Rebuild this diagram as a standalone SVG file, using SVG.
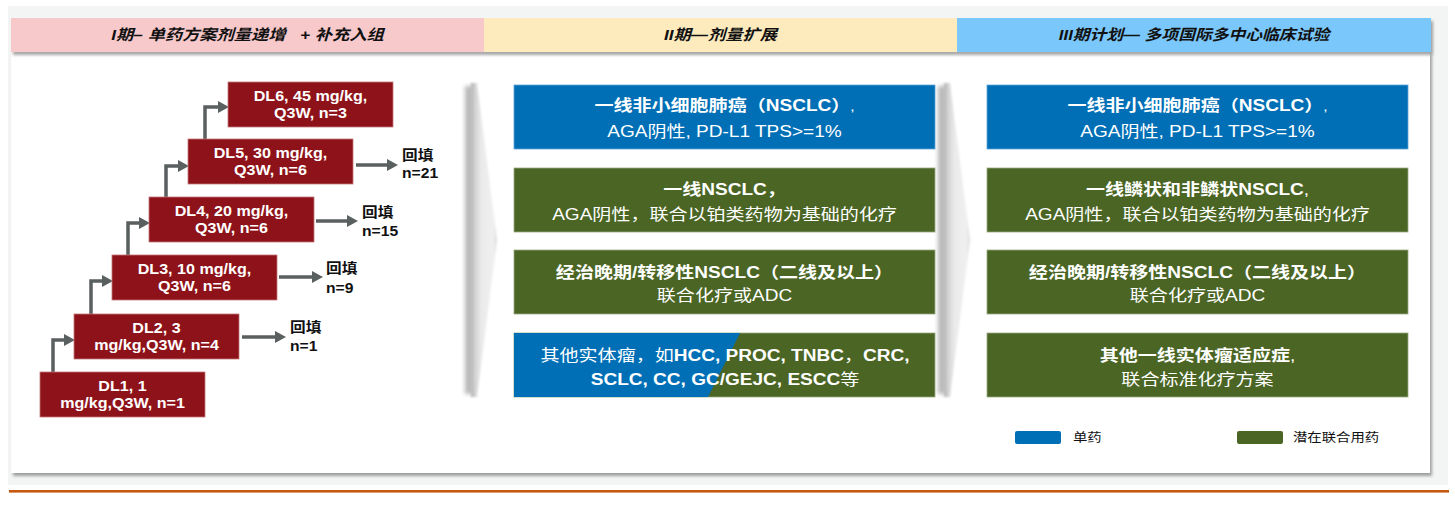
<svg xmlns="http://www.w3.org/2000/svg" width="1455" height="505" viewBox="0 0 1455 505">
<defs>
<filter id="sh" x="-5%" y="-10%" width="110%" height="130%"><feDropShadow dx="2" dy="3" stdDeviation="1.8" flood-color="#000" flood-opacity="0.35"/></filter>
<filter id="blur" x="-100%" y="-10%" width="300%" height="120%"><feGaussianBlur stdDeviation="2"/></filter>
<filter id="soft" x="-20%" y="-5%" width="140%" height="110%"><feGaussianBlur stdDeviation="0.8"/></filter>
<linearGradient id="chev" x1="0" y1="0" x2="1" y2="0">
<stop offset="0" stop-color="#b0b0b0"/>
<stop offset="0.15" stop-color="#d3d3d3"/>
<stop offset="0.4" stop-color="#eaeaea"/>
<stop offset="0.85" stop-color="#f0f0f0"/>
<stop offset="1" stop-color="#dadada"/>
</linearGradient>
<marker id="ah" markerUnits="userSpaceOnUse" viewBox="0 0 11 12" refX="0" refY="6" markerWidth="11" markerHeight="12" orient="auto"><path d="M0,0 L11,6 L0,12 z" fill="#5a5f60"/></marker>
</defs>
<style>
text{font-family:"Liberation Sans","Noto Sans CJK SC",sans-serif;}
.b{font-weight:bold}
.hd{font-size:15px;font-weight:bold;font-style:italic;fill:#111;white-space:pre}
.bk{font-size:16px;fill:#fff}
.dl{font-size:14px;font-weight:bold;fill:#fff}
.bf{font-size:14px;font-weight:bold;fill:#111}
.lg{font-size:12.5px;fill:#111}
.cn{fill:none;stroke:#5a5f60;stroke-width:3.5;marker-end:url(#ah)}
.dlbox{fill:#8e1219;stroke:#c4787b;stroke-width:0.8}
.blue{fill:#006fb6;stroke:#5fa6d8;stroke-width:0.8}
.green{fill:#4a6524;stroke:#9aab82;stroke-width:0.8}
.chev{fill:url(#chev)}
</style>

<!-- background -->
<rect x="0" y="0" width="1455" height="505" fill="#ffffff"/>
<rect x="8" y="6" width="1440" height="479" fill="#f3f4f4"/>
<rect x="11" y="52" width="1419" height="421" fill="#ffffff" filter="url(#sh)"/>
<rect x="9" y="490" width="1440" height="2.6" fill="#c65911"/>

<!-- headers -->
<g id="headers" filter="url(#sh)">
<rect x="11" y="18" width="473" height="34" fill="#f8c9cb"/>
<rect x="484" y="18" width="473" height="34" fill="#fdebbe"/>
<rect x="957" y="18" width="474" height="34" fill="#7ac8fb"/>
</g>
<g id="header-text">
<g transform="translate(247.5,0) scale(1.15,1)"><text class="hd" x="0" y="40.5" text-anchor="middle" xml:space="preserve">I期– 单药方案剂量递增   + 补充入组</text></g>
<g transform="translate(720.5,0) scale(1.15,1)"><text class="hd" x="0" y="40.5" text-anchor="middle">II期—剂量扩展</text></g>
<g transform="translate(1194,0) scale(1.12,1)"><text class="hd" x="0" y="40.5" text-anchor="middle">III期计划— 多项国际多中心临床试验</text></g>
</g>

<!-- chevron separators -->
<g id="separator-1">
<rect x="465" y="86" width="8" height="308" fill="#b8b8b8" filter="url(#blur)"/>
<polygon class="chev" points="471,83 477,83 497,240 477,397 471,397" filter="url(#soft)"/>
</g>
<g id="separator-2">
<rect x="938" y="86" width="8" height="308" fill="#b8b8b8" filter="url(#blur)"/>
<polygon class="chev" points="944,83 950,83 970,240 950,397 944,397" filter="url(#soft)"/>
</g>

<!-- connectors -->
<g id="connectors">
<path class="cn" d="M53,372 V340 H64"/>
<path class="cn" d="M91,314 V281 H102"/>
<path class="cn" d="M128,255 V223 H139"/>
<path class="cn" d="M166,197 V166 H178"/>
<path class="cn" d="M205,139 V107 H218"/>
<path class="cn" d="M242,337 H275"/>
<path class="cn" d="M279,277 H312"/>
<path class="cn" d="M316,221 H347"/>
<path class="cn" d="M356,165 H387"/>
</g>

<!-- dose level nodes -->
<g id="dl1">
<rect class="dlbox" x="40" y="372" width="165" height="45"/>
<g transform="translate(122.5,0) scale(1.15,1)"><text class="dl" x="0" y="391" text-anchor="middle">DL1, 1</text><text class="dl" x="0" y="408" text-anchor="middle">mg/kg,Q3W, n=1</text></g>
</g>
<g id="dl2">
<rect class="dlbox" x="74" y="314" width="165" height="45"/>
<g transform="translate(156.5,0) scale(1.15,1)"><text class="dl" x="0" y="333" text-anchor="middle">DL2, 3</text><text class="dl" x="0" y="350" text-anchor="middle">mg/kg,Q3W, n=4</text></g>
</g>
<g id="dl3">
<rect class="dlbox" x="112" y="255" width="165" height="45"/>
<g transform="translate(194.5,0) scale(1.15,1)"><text class="dl" x="0" y="274" text-anchor="middle">DL3, 10 mg/kg,</text><text class="dl" x="0" y="291" text-anchor="middle">Q3W, n=6</text></g>
</g>
<g id="dl4">
<rect class="dlbox" x="149" y="197" width="165" height="45"/>
<g transform="translate(231.5,0) scale(1.15,1)"><text class="dl" x="0" y="216" text-anchor="middle">DL4, 20 mg/kg,</text><text class="dl" x="0" y="233" text-anchor="middle">Q3W, n=6</text></g>
</g>
<g id="dl5">
<rect class="dlbox" x="188" y="139" width="165" height="45"/>
<g transform="translate(270.5,0) scale(1.15,1)"><text class="dl" x="0" y="158" text-anchor="middle">DL5, 30 mg/kg,</text><text class="dl" x="0" y="175" text-anchor="middle">Q3W, n=6</text></g>
</g>
<g id="dl6">
<rect class="dlbox" x="228" y="82" width="165" height="45"/>
<g transform="translate(310.5,0) scale(1.15,1)"><text class="dl" x="0" y="101" text-anchor="middle">DL6, 45 mg/kg,</text><text class="dl" x="0" y="118" text-anchor="middle">Q3W, n=3</text></g>
</g>

<!-- backfill labels -->
<g id="bf-dl2" transform="translate(290,0) scale(1.12,1)"><text class="bf" x="0" y="332">回填</text><text class="bf" x="0" y="351">n=1</text></g>
<g id="bf-dl3" transform="translate(326,0) scale(1.12,1)"><text class="bf" x="0" y="273">回填</text><text class="bf" x="0" y="293">n=9</text></g>
<g id="bf-dl4" transform="translate(362,0) scale(1.12,1)"><text class="bf" x="0" y="217">回填</text><text class="bf" x="0" y="236">n=15</text></g>
<g id="bf-dl5" transform="translate(402,0) scale(1.12,1)"><text class="bf" x="0" y="160">回填</text><text class="bf" x="0" y="178">n=21</text></g>

<!-- phase II blocks -->
<g id="p2-b1">
<rect class="blue" x="514" y="85" width="421" height="64"/>
<g transform="translate(724.5,0) scale(1.19,1)"><text class="bk" x="0" y="111" text-anchor="middle"><tspan class="b">一线非小细胞肺癌（NSCLC）</tspan><tspan font-size="13">,</tspan></text><text class="bk" x="0" y="137" text-anchor="middle">AGA阴性, PD-L1 TPS&gt;=1%</text></g>
</g>
<g id="p2-b2">
<rect class="green" x="514" y="168" width="421" height="64"/>
<g transform="translate(724.5,0) scale(1.19,1)"><text class="bk b" x="0" y="195" text-anchor="middle">一线NSCLC，</text><text class="bk" x="0" y="220" text-anchor="middle">AGA阴性，联合以铂类药物为基础的化疗</text></g>
</g>
<g id="p2-b3">
<rect class="green" x="514" y="250" width="421" height="64"/>
<g transform="translate(724.5,0) scale(1.19,1)"><text class="bk b" x="0" y="278" text-anchor="middle">经治晚期/转移性NSCLC（二线及以上）</text><text class="bk" x="0" y="301" text-anchor="middle">联合化疗或ADC</text></g>
</g>
<g id="p2-b4">
<rect class="green" x="514" y="333" width="421" height="64"/>
<polygon points="514,333 740,333 708,397 514,397" fill="#006fb6"/>
<g transform="translate(725,0) scale(1.19,1)"><text class="bk" x="0" y="361" text-anchor="middle">其他实体瘤，如<tspan class="b">HCC, PROC, TNBC</tspan>，<tspan class="b">CRC,</tspan></text><text class="bk" x="0" y="385" text-anchor="middle"><tspan class="b">SCLC, CC, GC/GEJC, ESCC</tspan>等</text></g>
</g>

<!-- phase III blocks -->
<g id="p3-b1">
<rect class="blue" x="987" y="85" width="421" height="64"/>
<g transform="translate(1197.5,0) scale(1.19,1)"><text class="bk" x="0" y="111" text-anchor="middle"><tspan class="b">一线非小细胞肺癌（NSCLC）</tspan><tspan font-size="13">,</tspan></text><text class="bk" x="0" y="137" text-anchor="middle">AGA阴性, PD-L1 TPS&gt;=1%</text></g>
</g>
<g id="p3-b2">
<rect class="green" x="987" y="168" width="421" height="64"/>
<g transform="translate(1197.5,0) scale(1.19,1)"><text class="bk" x="0" y="195" text-anchor="middle"><tspan class="b">一线鳞状和非鳞状NSCLC</tspan>,</text><text class="bk" x="0" y="220" text-anchor="middle">AGA阴性，联合以铂类药物为基础的化疗</text></g>
</g>
<g id="p3-b3">
<rect class="green" x="987" y="250" width="421" height="64"/>
<g transform="translate(1197.5,0) scale(1.19,1)"><text class="bk b" x="0" y="278" text-anchor="middle">经治晚期/转移性NSCLC（二线及以上）</text><text class="bk" x="0" y="301" text-anchor="middle">联合化疗或ADC</text></g>
</g>
<g id="p3-b4">
<rect class="green" x="987" y="333" width="421" height="64"/>
<g transform="translate(1197.5,0) scale(1.19,1)"><text class="bk" x="0" y="361" text-anchor="middle"><tspan class="b">其他一线实体瘤适应症</tspan>,</text><text class="bk" x="0" y="385" text-anchor="middle">联合标准化疗方案</text></g>
</g>

<!-- legend -->
<g id="legend-mono">
<rect x="1015" y="431" width="46" height="13" rx="2" fill="#006fb6"/>
<g transform="translate(1073,0) scale(1.15,1)"><text class="lg" x="0" y="442.5">单药</text></g>
</g>
<g id="legend-combo">
<rect x="1237" y="431" width="46" height="13" rx="2" fill="#4a6524"/>
<g transform="translate(1293,0) scale(1.15,1)"><text class="lg" x="0" y="442.5">潜在联合用药</text></g>
</g>
</svg>
